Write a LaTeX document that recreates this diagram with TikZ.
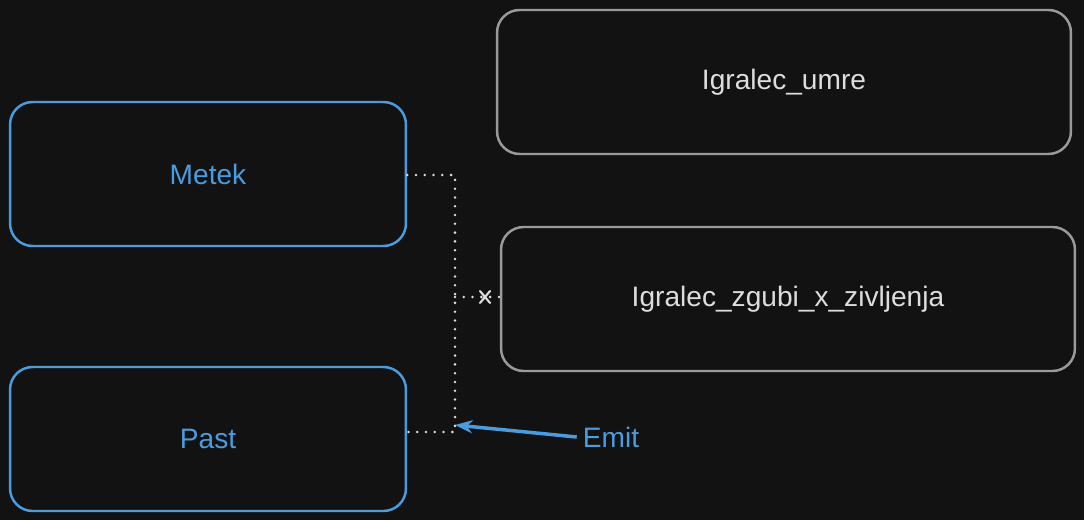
\documentclass[tikz,border=0pt]{standalone}
\usepackage{fontspec}
\setmainfont{Liberation Sans}
\usetikzlibrary{arrows.meta}
\definecolor{bg}{HTML}{121212}
\definecolor{bl}{HTML}{4A9CE0}
\definecolor{gr}{HTML}{9A9A9A}
\definecolor{tx}{HTML}{DDDDDD}
\begin{document}
\begin{tikzpicture}[x=0.02cm,y=-0.02cm,
  box/.style={draw,line width=1.4pt,rounded corners=0.45cm,font=\fontsize{16}{19}\selectfont},
  bbox/.style={box,draw=bl,text=bl},
  gbox/.style={box,draw=gr,text=tx},
  dot/.style={draw=tx,line width=1.6pt,line cap=round,dash pattern=on 0pt off 5pt}]
\fill[bg] (0,0) rectangle (1084,520);
\useasboundingbox (0,0) rectangle (1084,520);
\node[bbox,minimum width=7.92cm,minimum height=2.88cm] (metek) at (208,174) {Metek};
\node[bbox,minimum width=7.92cm,minimum height=2.88cm] (past) at (208,439) {Past};
\node[gbox,minimum width=11.48cm,minimum height=2.88cm] (umre) at (784,82) {Igralec\_umre};
\node[gbox,minimum width=11.48cm,minimum height=2.88cm] (zgubi) at (788,299) {Igralec\_zgubi\_x\_zivljenja};
\coordinate (j1) at (455,175);
\coordinate (j2) at (455,432);
\coordinate (j3) at (455,297);
\draw[dot] (metek.east |- j1) -- (j1) -- (j2) -- (past.east |- j2);
\draw[dot] (j3) -- (zgubi.west |- j3);
\draw[tx,line width=1.2pt,line cap=round] (480,291) -- (490,303) (480,303) -- (490,291);
\node[text=bl,font=\fontsize{16}{19}\selectfont] (emit) at (611,437) {Emit};
\draw[bl,line width=2pt,-{Stealth[length=10pt]}] (emit.west) -- (j2 |- 0,425);
\end{tikzpicture}
\end{document}
